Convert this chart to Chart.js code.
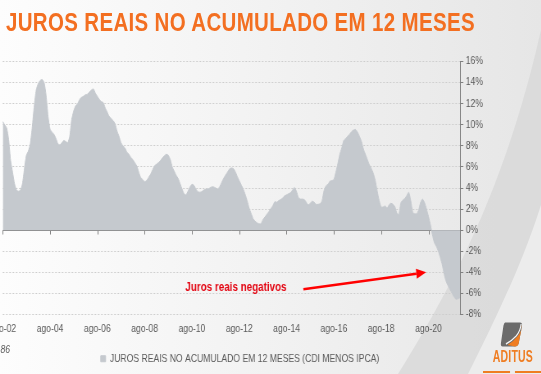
<!DOCTYPE html>
<html lang="pt">
<head>
<meta charset="UTF-8">
<title>Juros reais no acumulado em 12 meses</title>
<script src="https://cdn.jsdelivr.net/npm/chart.js@4.4.1/dist/chart.umd.min.js"></script>
<style>
    html, body { margin: 0; padding: 0; }
    body {
        width: 541px; height: 374px; overflow: hidden; position: relative;
        background: linear-gradient(90deg, #fdfdfd 0%, #f3f3f3 45%, #e6e6e6 100%);
        font-family: 'Liberation Sans', Arial, sans-serif;
    }
    #swoosh { position: absolute; left: 0; top: 0; }
    /* the source picture is squeezed horizontally, so the whole stage is too */
    #stage {
        position: absolute; left: 0; top: 0; width: 660px; height: 374px;
        transform: scaleX(0.82); transform-origin: 0 0;
    }
    #title {
        position: absolute; left: 7.3px; top: 9.8px; margin: 0;
        font: bold 25px/25px 'Liberation Sans', Arial, sans-serif;
        letter-spacing: 0.4px; color: #f36f21; white-space: nowrap;
    }
    #chart { position: absolute; left: -40px; top: 0; }
    #fonte {
        position: absolute; left: 0.6px; top: 343px;
        font: italic 10.5px 'Liberation Sans', Arial, sans-serif; color: #595959;
    }
    #logo-icon { position: absolute; left: 610px; top: 321px; }
    #logo-text {
        position: absolute; left: 601px; top: 349px;
        font: bold 16px/16px 'Liberation Sans', Arial, sans-serif; color: #ef7d22;
        transform: scaleX(0.8); transform-origin: 0 0; letter-spacing: 0.3px;
    }
    .logo-line { position: absolute; top: 371px; height: 2px; background: #ef7d22; }
</style>
</head>
<body>
<svg id="swoosh" width="541" height="374" viewBox="0 0 541 374">
    <path d="M 398 374 C 450 290, 505 190, 541 30 L 541 374 Z" fill="#d6d6d6" opacity="0.7"/>
    <path d="M 468 374 C 495 320, 522 265, 541 205 L 541 374 Z" fill="#ececec"/>
</svg>

<div id="stage">
    <h1 id="title">JUROS REAIS NO ACUMULADO EM 12 MESES</h1>
    <canvas id="chart" width="700" height="374"></canvas>
    <div id="fonte">86</div>
    <svg id="logo-icon" width="28" height="27" viewBox="0 0 28 26">
        <path d="M6 1 H24 Q27.5 1 26.5 5 L22.5 22 Q21.5 25 18 25 H3 Q0 25 1 21 L4 4 Q5 1 6 1 Z" fill="#6b6b6b"/>
        <path d="M26 3 Q27 9 21 15 Q16 20 9 23.5 L18 25 Q21.5 25 22.5 22 L26.5 5 Z" fill="#ef7d22"/>
        <path d="M25.5 2.5 Q25 9 19.5 14.5 Q14 19.5 7 22.5" stroke="#f4f4f4" stroke-width="1.4" fill="none"/>
    </svg>
    <div id="logo-text">ADITUS</div>
    <div class="logo-line" style="left:589px; width:33px;"></div>
    <div class="logo-line" style="left:628px; width:32px;"></div>
</div>

<script>
    // CDI menos IPCA, acumulado em 12 meses, mensal a partir de ago-02
    const juros0206 = [
        10.3, 10.0, 9.7, 8.6, 6.6, 5.5, 4.4, 3.8, 3.7, 3.8, 4.4, 5.8,
        7.1, 7.5, 8.2, 9.8, 11.8, 13.3, 13.9, 14.2, 14.3, 14.0, 12.8, 10.8,
        9.6, 9.3, 9.1, 8.7, 8.2, 8.1, 8.3, 8.5, 8.4, 8.3, 8.9, 10.5,
        11.3, 11.8, 12.0, 12.4, 12.6, 12.7, 12.85, 12.9, 13.1, 13.3, 13.4, 13.0
    ];
    const juros0610 = [
        12.7, 12.4, 12.2, 12.1, 11.6, 11.2, 10.8, 10.6, 10.4, 10.1, 9.4, 8.9,
        8.3, 8.0, 7.8, 7.4, 7.2, 6.9, 6.7, 6.4, 6.1, 5.5, 5.0, 4.8,
        4.6, 4.7, 5.0, 5.3, 5.7, 6.1, 6.25, 6.4, 6.6, 6.85, 7.05, 7.2,
        7.1, 6.7, 6.0, 5.6, 5.2, 4.9, 4.4, 3.9, 3.45, 3.35, 3.7, 4.1
    ];
    const juros1014 = [
        4.35, 4.25, 3.9, 3.65, 3.6, 3.65, 3.8, 3.9, 3.9, 4.0, 4.1, 4.1,
        4.0, 3.9, 4.1, 4.5, 4.9, 5.2, 5.5, 5.8, 5.9, 5.85, 5.55, 5.1,
        4.7, 4.3, 3.9, 3.4, 2.8, 2.1, 1.6, 1.1, 0.85, 0.7, 0.6, 0.6,
        1.0, 1.25, 1.5, 1.75, 2.05, 2.3, 2.7, 2.65, 2.8, 2.9, 3.05, 3.25
    ];
    const juros1418 = [
        3.35, 3.45, 3.55, 3.8, 4.05, 3.7, 3.1, 2.95, 2.95, 2.9, 2.65, 2.4,
        2.55, 2.75, 2.65, 2.45, 2.45, 2.5, 2.8, 3.75, 4.2, 4.35, 4.65, 4.7,
        4.8, 5.5, 6.3, 7.2, 7.8, 8.5, 8.7, 8.9, 9.1, 9.35, 9.5, 9.55,
        9.3, 8.9, 8.4, 7.7, 7.2, 6.7, 6.2, 5.85, 5.4, 4.7, 3.7, 2.8
    ];
    const juros1821 = [
        2.2, 2.2, 2.3, 2.1, 2.4, 2.55, 2.45, 2.2, 1.6, 1.5, 2.6, 2.85,
        3.0, 3.3, 3.6, 2.8, 1.7, 1.55, 1.55, 1.9, 2.65, 2.95, 2.6, 2.0,
        1.3, 0.5, -0.45, -1.2, -1.55, -2.0, -2.6, -3.3, -4.2, -4.9, -5.3, -5.65,
        -6.0, -6.35, -6.55, -6.5, -6.4
    ];

    const meses = ['jan', 'fev', 'mar', 'abr', 'mai', 'jun', 'jul', 'ago', 'set', 'out', 'nov', 'dez'];
    const serieNome = 'JUROS REAIS NO ACUMULADO EM 12 MESES (CDI MENOS IPCA)';
    const anotacao = 'Juros reais negativos';

    const juros = [].concat(juros0206, juros0610, juros1014, juros1418, juros1821);
    // labels ago-02, set-02, ... (first month is august 2002)
    const labels = juros.map((_, i) => {
        const k = 7 + i;
        return meses[k % 12] + '-' + String(2 + Math.floor(k / 12)).padStart(2, '0');
    });

    Chart.defaults.font.family = "'Liberation Sans', Arial, sans-serif";
    Chart.defaults.color = '#595959';

    // zero axis line with tick marks, and the red note with its arrow
    const extras = {
        id: 'extras',
        beforeDatasetsDraw(chart) {
            const { ctx, chartArea, scales: { x, y } } = chart;
            const y0 = Math.round(y.getPixelForValue(0)) + 0.5;
            ctx.save();
            ctx.strokeStyle = '#7f7f7f';
            ctx.lineWidth = 1;
            ctx.beginPath();
            ctx.moveTo(chartArea.left, y0);
            ctx.lineTo(chartArea.right, y0);
            for (let i = 0; i < labels.length; i += 24) {
                const px = Math.round(x.getPixelForValue(i)) + 0.5;
                ctx.moveTo(px, y0);
                ctx.lineTo(px, y0 + 4);
            }
            ctx.stroke();
            ctx.restore();
        },
        afterDatasetsDraw(chart) {
            const { ctx, scales: { x, y } } = chart;
            ctx.save();
            ctx.font = "bold 12px 'Liberation Sans', Arial, sans-serif";
            ctx.fillStyle = '#e30613';
            ctx.textAlign = 'right';
            ctx.textBaseline = 'middle';
            ctx.fillText(anotacao, x.getPixelForValue(144), y.getPixelForValue(-5.5));

            const x1 = x.getPixelForValue(152.5), y1 = y.getPixelForValue(-5.6);
            const x2 = x.getPixelForValue(214.8), y2 = y.getPixelForValue(-4.0);
            const ang = Math.atan2(y2 - y1, x2 - x1);
            const head = 12, half = 5;
            const bx = x2 - head * Math.cos(ang), by = y2 - head * Math.sin(ang);
            ctx.strokeStyle = '#ff0000';
            ctx.fillStyle = '#ff0000';
            ctx.lineWidth = 2.6;
            ctx.beginPath();
            ctx.moveTo(x1, y1);
            ctx.lineTo(bx, by);
            ctx.stroke();
            ctx.beginPath();
            ctx.moveTo(x2, y2);
            ctx.lineTo(bx + half * Math.sin(ang), by - half * Math.cos(ang));
            ctx.lineTo(bx - half * Math.sin(ang), by + half * Math.cos(ang));
            ctx.closePath();
            ctx.fill();
            ctx.restore();
        }
    };

    new Chart(document.getElementById('chart'), {
        type: 'line',
        data: {
            labels: labels,
            datasets: [{
                label: serieNome,
                data: juros,
                fill: 'origin',
                backgroundColor: '#c5c9ce',
                borderColor: '#c5c9ce',
                borderWidth: 1,
                pointRadius: 0,
                tension: 0.2
            }]
        },
        options: {
            responsive: false,
            animation: false,
            layout: { padding: { top: 61.5, left: 43.3, right: 78, bottom: 0 } },
            scales: {
                x: {
                    grid: { display: false, drawTicks: false },
                    border: { display: false },
                    ticks: {
                        autoSkip: false,
                        maxRotation: 0,
                        minRotation: 0,
                        padding: 8,
                        color: '#595959',
                        font: { size: 10.5 },
                        callback: function (v, i) {
                            return i % 24 === 0 ? this.getLabelForValue(v) : '';
                        }
                    },
                    afterFit: s => { s.height = 31; }
                },
                y: {
                    position: 'right',
                    min: -8,
                    max: 16,
                    ticks: {
                        stepSize: 2,
                        // mirrored + far keeps labels left aligned outside the axis, without clipping
                        mirror: true,
                        crossAlign: 'far',
                        padding: 28,
                        color: '#595959',
                        font: { size: 10.5 },
                        callback: v => v + '%'
                    },
                    grid: {
                        color: '#cdcdcd',
                        drawTicks: true,
                        tickLength: 4,
                        tickColor: '#808080'
                    },
                    border: { display: true, color: '#808080', width: 1, dash: [2, 2] },
                    afterFit: s => { s.width = 21; }
                }
            },
            plugins: {
                legend: {
                    position: 'bottom',
                    labels: {
                        boxWidth: 6,
                        boxHeight: 6,
                        padding: 8,
                        color: '#595959',
                        font: { size: 10.5 }
                    }
                },
                tooltip: { enabled: false }
            }
        },
        plugins: [extras]
    });
</script>
</body>
</html>
